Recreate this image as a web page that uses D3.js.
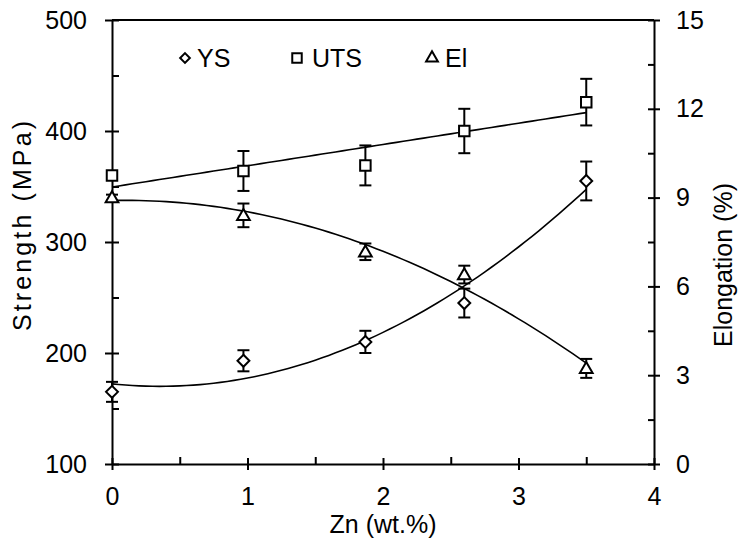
<!DOCTYPE html>
<html>
<head>
<meta charset="utf-8">
<script src="https://cdn.jsdelivr.net/npm/d3@7"></script>
<style>
  body { margin: 0; background: #fff; }
  svg text { font-family: "Liberation Sans", Arial, sans-serif; fill: #000; }
  .axis path, .axis line { stroke: #000; stroke-width: 2; }
</style>
</head>
<body>
<div id="chart"></div>
<script>
// ── Data ─────────────────────────────────────────────────────────────────────
const zn      = [0, 0.97, 1.87, 2.6, 3.5];
const ys      = [165, 193, 210, 245, 355];
const ysErr   = [9, 9.5, 10, 13, 17.5];
const uts     = [360, 364, 369, 400, 426];
const utsErr  = [0, 18, 18, 20, 21];
const el      = [9.0, 8.4, 7.17, 6.4, 3.23];
const elErr   = [0.1, 0.4, 0.28, 0.3, 0.32];

const xTicks      = [0, 1, 2, 3, 4];
const strengthTks = [100, 200, 300, 400, 500];
const elongTks    = [0, 3, 6, 9, 12, 15];

const W = 749, H = 539;
const M = { top: 20, right: 95, bottom: 75, left: 112 };
const iw = W - M.left - M.right;
const ih = H - M.top - M.bottom;
const FS = 25;

const svg = d3.select('#chart').append('svg').attr('width', W).attr('height', H);
const g = svg.append('g').attr('transform', `translate(${M.left},${M.top})`);

// ── Scales ───────────────────────────────────────────────────────────────────
const x  = d3.scaleLinear().domain([0, 4]).range([0, iw]);
const yL = d3.scaleLinear().domain([100, 500]).range([ih, 0]);
const yR = d3.scaleLinear().domain([0, 15]).range([ih, 0]);

// ── Least-squares polynomial fit (trendlines) ────────────────────────────────
function polyfit(xs, vs, deg) {
  const n = deg + 1;
  const A = Array.from({ length: n }, () => new Array(n + 1).fill(0));
  xs.forEach((xi, k) => {
    for (let i = 0; i < n; i++) {
      for (let j = 0; j < n; j++) A[i][j] += Math.pow(xi, i + j);
      A[i][n] += vs[k] * Math.pow(xi, i);
    }
  });
  // Gauss-Jordan with partial pivoting
  for (let i = 0; i < n; i++) {
    let p = i;
    for (let r = i + 1; r < n; r++) if (Math.abs(A[r][i]) > Math.abs(A[p][i])) p = r;
    const tmp = A[i]; A[i] = A[p]; A[p] = tmp;
    for (let r = 0; r < n; r++) {
      if (r === i) continue;
      const f = A[r][i] / A[i][i];
      for (let c = i; c <= n; c++) A[r][c] -= f * A[i][c];
    }
  }
  const coef = A.map((row, i) => row[n] / row[i]);
  return t => coef.reduce((s, c, i) => s + c * Math.pow(t, i), 0);
}

// ── Axes ─────────────────────────────────────────────────────────────────────
function minorVals(dom, step) { return d3.range(dom[0] + step / 2, dom[1], step); }

// left
g.append('g').attr('class', 'axis')
  .call(d3.axisLeft(yL).tickValues(strengthTks).tickSize(7).tickPadding(18).tickSizeOuter(0))
  .call(a => a.selectAll('.tick line').attr('x1', 7))
  .call(a => a.selectAll('text').attr('font-size', FS).attr('font-family', null));
g.append('g').attr('class', 'axis')
  .call(d3.axisLeft(yL).tickValues(minorVals([100, 500], 100)).tickSize(-7).tickFormat(''))
  .call(a => a.select('.domain').remove());

// right
g.append('g').attr('class', 'axis').attr('transform', `translate(${iw},0)`)
  .call(d3.axisRight(yR).tickValues(elongTks).tickSize(6).tickPadding(16).tickSizeOuter(0))
  .call(a => a.selectAll('.tick line').attr('x1', -6))
  .call(a => a.selectAll('text').attr('font-size', FS).attr('font-family', null));
g.append('g').attr('class', 'axis').attr('transform', `translate(${iw},0)`)
  .call(d3.axisRight(yR).tickValues(minorVals([0, 15], 3)).tickSize(-6).tickFormat(''))
  .call(a => a.select('.domain').remove());

// bottom
g.append('g').attr('class', 'axis').attr('transform', `translate(0,${ih})`)
  .call(d3.axisBottom(x).tickValues(xTicks).tickFormat(d3.format('d'))
    .tickSize(6).tickPadding(17).tickSizeOuter(0))
  .call(a => a.selectAll('.tick line').attr('y1', -6))
  .call(a => a.selectAll('text').attr('font-size', FS).attr('font-family', null));
g.append('g').attr('class', 'axis').attr('transform', `translate(0,${ih})`)
  .call(d3.axisBottom(x).tickValues(minorVals([0, 4], 1)).tickSize(-7).tickFormat(''))
  .call(a => a.select('.domain').remove());

// top frame line
g.append('line').attr('x1', 0).attr('x2', iw).attr('y1', 0).attr('y2', 0)
  .attr('stroke', '#000').attr('stroke-width', 2);

// ── Axis titles ──────────────────────────────────────────────────────────────
g.append('text').attr('x', iw / 2).attr('y', ih + 69)
  .attr('text-anchor', 'middle').attr('font-size', FS).text('Zn (wt.%)');
// left title is drawn wider-spaced in the reference
g.append('text')
  .attr('transform', `translate(${22 - M.left + 9},${226 - M.top}) rotate(-90)`)
  .attr('text-anchor', 'middle').attr('font-size', FS)
  .attr('textLength', 210).attr('lengthAdjust', 'spacing')
  .text('Strength (MPa)');
g.append('text')
  .attr('transform', `translate(${741 - M.left - 9},${265 - M.top}) rotate(-90)`)
  .attr('text-anchor', 'middle').attr('font-size', FS).text('Elongation (%)');

// ── Series ───────────────────────────────────────────────────────────────────
const sym = {
  diamond:  d3.symbol().type(d3.symbolDiamond2).size(90),
  square:   d3.symbol().type(d3.symbolSquare).size(110),
  triangle: d3.symbol().type(d3.symbolTriangle).size(70)
};

const series = [
  { name: 'YS',  vals: ys,  err: ysErr,  y: yL, deg: 2, shape: 'diamond'  },
  { name: 'UTS', vals: uts, err: utsErr, y: yL, deg: 1, shape: 'square'   },
  { name: 'El',  vals: el,  err: elErr,  y: yR, deg: 2, shape: 'triangle' }
];

series.forEach(s => {
  const f = polyfit(zn, s.vals, s.deg);
  const xs = d3.range(0, 3.5001, 0.05);
  g.append('path')
    .attr('fill', 'none').attr('stroke', '#000').attr('stroke-width', 1.6)
    .attr('d', d3.line().x(t => x(t)).y(t => s.y(f(t)))(xs));

  const pts = zn.map((z, i) => ({ z, v: s.vals[i], e: s.err[i] }));
  const eg = g.append('g').attr('stroke', '#000').attr('stroke-width', 2);
  pts.filter(p => p.e > 0).forEach(p => {
    const cx = x(p.z), t = s.y(p.v + p.e), b = s.y(p.v - p.e);
    eg.append('line').attr('x1', cx).attr('x2', cx).attr('y1', t).attr('y2', b);
    eg.append('line').attr('x1', cx - 6).attr('x2', cx + 6).attr('y1', t).attr('y2', t);
    eg.append('line').attr('x1', cx - 6).attr('x2', cx + 6).attr('y1', b).attr('y2', b);
  });

  g.selectAll(null).data(pts).join('path')
    .attr('transform', p => `translate(${x(p.z)},${s.y(p.v) + (s.shape === 'triangle' ? 1 : 0)})`)
    .attr('d', sym[s.shape]())
    .attr('fill', '#fff').attr('stroke', '#000').attr('stroke-width', 2);
});

// ── Legend ───────────────────────────────────────────────────────────────────
const legend = [
  { name: 'YS',  shape: 'diamond',  mx: 185, tx: 197 },
  { name: 'UTS', shape: 'square',   mx: 297, tx: 312 },
  { name: 'El',  shape: 'triangle', mx: 432, tx: 445 }
];
const lg = svg.append('g');
legend.forEach(l => {
  lg.append('path').attr('transform', `translate(${l.mx},58)`)
    .attr('d', d3.symbol().type(l.shape === 'diamond' ? d3.symbolDiamond2 :
      l.shape === 'square' ? d3.symbolSquare : d3.symbolTriangle)
      .size(l.shape === 'square' ? 90 : 60)())
    .attr('fill', '#fff').attr('stroke', '#000').attr('stroke-width', 2);
  lg.append('text').attr('x', l.tx).attr('y', 67).attr('font-size', FS).text(l.name);
});
</script>
</body>
</html>
